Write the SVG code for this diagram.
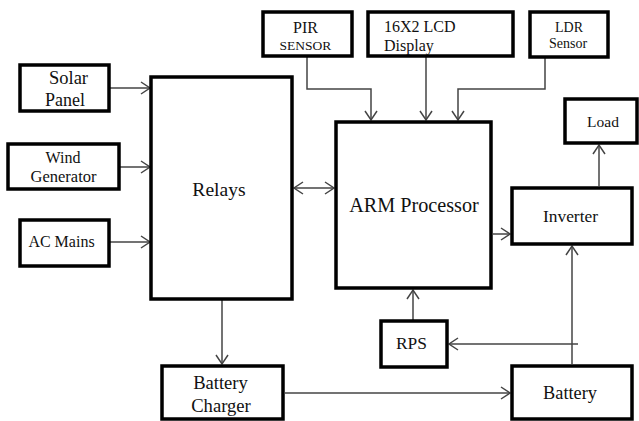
<svg xmlns="http://www.w3.org/2000/svg" width="639" height="421" viewBox="0 0 639 421">
<defs>
<marker id="ah" markerWidth="12" markerHeight="14" refX="10" refY="7" orient="auto-start-reverse" markerUnits="userSpaceOnUse">
<path d="M1,1 L10,7 L1,13" fill="none" stroke="#444" stroke-width="1.5"/>
</marker>
<style>
.box{fill:#fff;stroke:#000;stroke-width:3.5}
.t{font-family:"Liberation Serif","Times New Roman","DejaVu Serif",serif;fill:#111;text-anchor:middle;dominant-baseline:central}
.c{fill:none;stroke:#444;stroke-width:1.5}
.a{marker-end:url(#ah)}
</style>
</defs>
<rect width="639" height="421" fill="#fff"/>
<g id="connectors">
<path class="c a" d="M109,88 H150"/>
<path class="c a" d="M119,167 H150"/>
<path class="c a" d="M109,242 H150"/>
<path class="c a" d="M294,188 H334" marker-start="url(#ah)"/>
<path class="c a" d="M307,57 V89 H371 V120"/>
<path class="c a" d="M426,57 V120"/>
<path class="c a" d="M545,57 V89 H458 V120"/>
<path class="c a" d="M493,234 H510"/>
<path class="c a" d="M599,186 V145"/>
<path class="c a" d="M413,320 V290"/>
<path class="c a" d="M578,344 H449"/>
<path class="c a" d="M572,364 V246"/>
<path class="c a" d="M222,300 V364"/>
<path class="c a" d="M285,393 H510"/>
</g>
<g id="solar"><rect class="box" x="20" y="65" width="89" height="46"/><text class="t" x="68.5" y="78" font-size="18.5">Solar</text><text class="t" x="65" y="100" font-size="18">Panel</text></g>
<g id="wind"><rect class="box" x="8" y="144" width="111" height="45"/><text class="t" x="63" y="157" font-size="16">Wind</text><text class="t" x="63.5" y="176" font-size="16.5">Generator</text></g>
<g id="ac"><rect class="box" x="20" y="220" width="89" height="46"/><text class="t" x="61.5" y="241" font-size="16">AC Mains</text></g>
<g id="relays"><rect class="box" x="151" y="77" width="141" height="222"/><text class="t" x="219" y="189" font-size="19.6">Relays</text></g>
<g id="arm"><rect class="box" x="336" y="122" width="155" height="166"/><text class="t" x="414" y="205" font-size="20.2">ARM Processor</text></g>
<g id="pir"><rect class="box" x="263" y="12" width="89" height="44"/><text class="t" x="305.5" y="27" font-size="16">PIR</text><text class="t" x="305.5" y="45" font-size="13.5">SENSOR</text></g>
<g id="lcd"><rect class="box" x="368" y="12" width="145" height="44"/><text class="t" x="384" y="26" font-size="16" style="text-anchor:start">16X2 LCD</text><text class="t" x="384" y="45" font-size="16" style="text-anchor:start">Display</text></g>
<g id="ldr"><rect class="box" x="530" y="12" width="78" height="45"/><text class="t" x="569" y="27" font-size="14">LDR</text><text class="t" x="568" y="43" font-size="14">Sensor</text></g>
<g id="load"><rect class="box" x="565" y="99" width="72" height="44"/><text class="t" x="603" y="121" font-size="15.5">Load</text></g>
<g id="inverter"><rect class="box" x="512" y="188" width="120" height="56"/><text class="t" x="570.5" y="216" font-size="17.4">Inverter</text></g>
<g id="rps"><rect class="box" x="381" y="321" width="66" height="46"/><text class="t" x="411.5" y="343" font-size="17.4">RPS</text></g>
<g id="battery"><rect class="box" x="512" y="366" width="120" height="53"/><text class="t" x="570" y="393" font-size="18.3">Battery</text></g>
<g id="charger"><rect class="box" x="162" y="366" width="121" height="53"/><text class="t" x="220.5" y="382" font-size="18.6">Battery</text><text class="t" x="221" y="405" font-size="18.6">Charger</text></g>
</svg>
